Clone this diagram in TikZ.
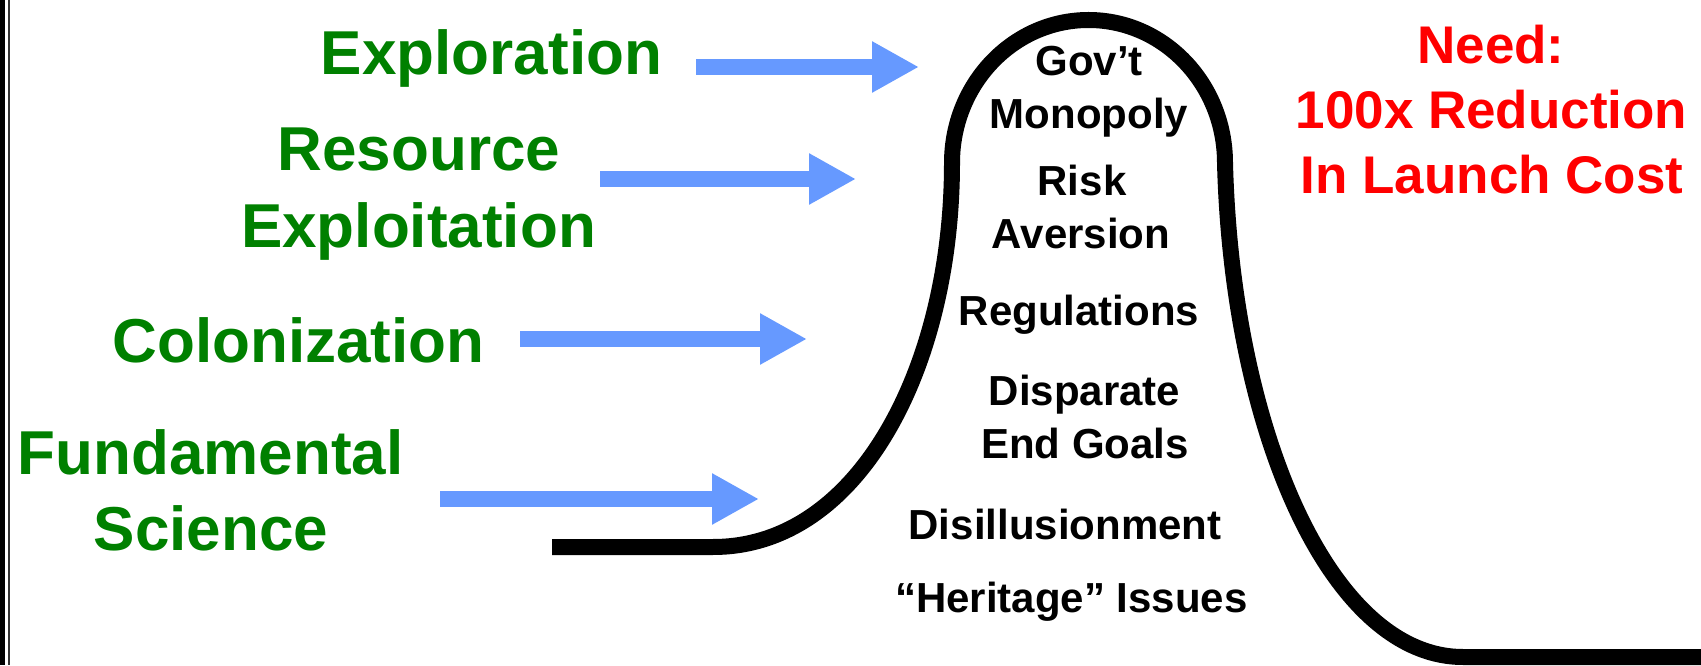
\documentclass[tikz,border=0pt]{standalone}
\usepackage{fontspec}
\setmainfont{Liberation Sans}
\usetikzlibrary{arrows.meta}
\definecolor{hgreen}{RGB}{0,128,0}
\definecolor{hblue}{RGB}{102,153,255}
\definecolor{hred}{RGB}{255,0,0}
\begin{document}
\begin{tikzpicture}[x=1pt,y=1pt,
  greentxt/.style={text=hgreen,font=\fontsize{62}{74}\selectfont\bfseries,anchor=base,inner sep=0pt},
  blacktxt/.style={text=black,font=\fontsize{42}{52}\selectfont\bfseries,anchor=base,inner sep=0pt},
  redtxt/.style={text=hred,font=\fontsize{53}{64}\selectfont\bfseries,anchor=base,inner sep=0pt},
  bluearrow/.style={draw=hblue,line width=16pt,-{Triangle[length=47pt,width=48pt]}},
  hill/.style={draw=black,line width=16pt}]
\useasboundingbox (0,0) rectangle (1701,665);
% left border
\fill[black] (0,0) rectangle (5,665);
\fill[black!80] (7.5,0) rectangle (10,665);
% green labels
\node[greentxt] (explo) at (491.5,590) {Exploration};
\node[greentxt] (resA) at (419,494) {Resource};
\node[greentxt] (resB) at (418.5,417.5) {Exploitation};
\node[greentxt] (colo) at (298.5,302) {Colonization};
\node[greentxt] (fundA) at (210.5,191) {Fundamental};
\node[greentxt] (fundB) at (211,115) {Science};
% arrows
\coordinate (a1s) at (696,598); \coordinate (a1e) at (919,598);
\coordinate (a2s) at (600,486); \coordinate (a2e) at (856,486);
\coordinate (a3s) at (520,326); \coordinate (a3e) at (807,326);
\coordinate (a4s) at (440,166); \coordinate (a4e) at (759,166);
\draw[bluearrow] (a1s) -- (a1e);
\draw[bluearrow] (a2s) -- (a2e);
\draw[bluearrow] (a3s) -- (a3e);
\draw[bluearrow] (a4s) -- (a4e);
% hill
\coordinate (h0) at (552,118);
\coordinate (h1) at (713,118);
\coordinate (h2) at (952,502);
\coordinate (h4) at (1463,8);
\coordinate (h5) at (1720,8);
\draw[hill] (h0) -- (h1) .. controls (860,118) and (952,300) .. (h2)
  arc[start angle=180,end angle=0,x radius=136.5,y radius=143]
  .. controls (1232,235) and (1330,8) .. (h4) -- (h5);
% black labels
\node[blacktxt] (govA) at (1089,589) {Gov’t};
\node[blacktxt] (govB) at (1089,536) {Monopoly};
\node[blacktxt] (riskA) at (1082,469) {Risk};
\node[blacktxt] (riskB) at (1081,416) {Aversion};
\node[blacktxt] (regu) at (1079,339) {Regulations};
\node[blacktxt] (dispA) at (1084.5,259) {Disparate};
\node[blacktxt] (dispB) at (1085,207) {End Goals};
\node[blacktxt] (disil) at (1065,126) {Disillusionment};
\node[blacktxt] (herit) at (1071.5,53) {“Heritage” Issues};
% red labels
\node[redtxt] (needA) at (1491,601) {Need:};
\node[redtxt] (needB) at (1491.5,536) {100x Reduction};
\node[redtxt] (needC) at (1492,471) {In Launch Cost};
\end{tikzpicture}
\end{document}
